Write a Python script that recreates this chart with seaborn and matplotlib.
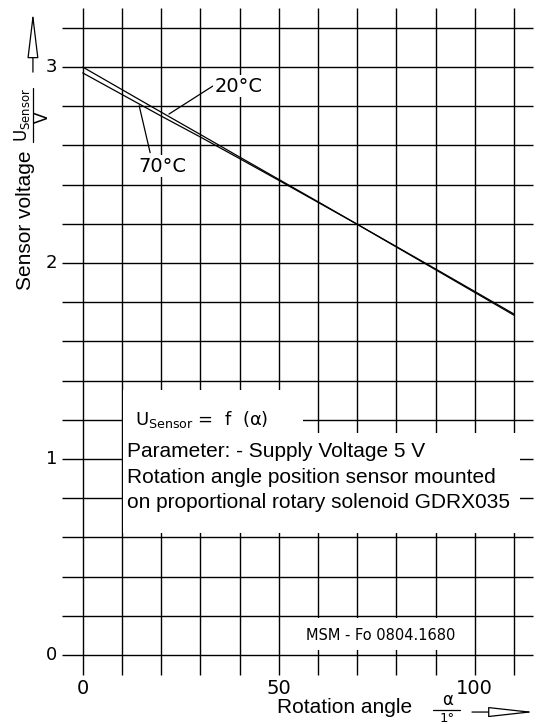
import numpy as np
import pandas as pd
import matplotlib
matplotlib.use("Agg")
import matplotlib.pyplot as plt
from matplotlib.patches import Rectangle
import seaborn as sns

# characteristic curves
angle = [0, 10, 20, 30, 40, 50, 60, 70, 80, 90, 100, 110]
u_20c = [3.00, 2.885, 2.77, 2.656, 2.541, 2.427, 2.313, 2.198, 2.084, 1.970, 1.855, 1.740]
u_70c = [2.97, 2.860, 2.750, 2.643, 2.533, 2.422, 2.310, 2.198, 2.082, 1.966, 1.850, 1.734]

x_ticks = [0, 50, 100]
y_ticks = [0, 1, 2, 3]
x_grid = np.arange(0, 111, 10)
y_grid = np.round(np.arange(0, 3.21, 0.2), 2)

param_text = ("Parameter: - Supply Voltage 5 V\n"
              "Rotation angle position sensor mounted\n"
              "on proportional rotary solenoid GDRX035")

df = pd.DataFrame({
    "angle": angle * 2,
    "voltage": u_20c + u_70c,
    "temp": ["20°C"] * len(angle) + ["70°C"] * len(angle),
})

sns.set_style("white")
plt.rcParams["font.family"] = ["DejaVu Sans"]
plt.rcParams["text.color"] = "black"
arial = ["Liberation Sans", "DejaVu Sans"]

fig = plt.figure(figsize=(5.39, 7.24), dpi=100)
ax = fig.add_axes([0, 0, 1, 1])

# grid
ax.vlines(x_grid, -0.1, 3.3, color="black", lw=1.0, zorder=1)
ax.hlines(y_grid, -5.3, 114.9, color="black", lw=1.0, zorder=1)

# white areas that hide the grid behind the text
ax.add_patch(Rectangle((10.4, 0.625), 101.2, 0.51, fc="white", ec="none", zorder=2))
ax.add_patch(Rectangle((10.4, 1.13), 45.8, 0.22, fc="white", ec="none", zorder=2))
ax.add_patch(Rectangle((53.0, 0.025), 45.8, 0.165, fc="white", ec="none", zorder=2))

sns.lineplot(data=df, x="angle", y="voltage", hue="temp",
             palette=["black", "black"], legend=False, lw=0.9, ax=ax, zorder=3)
ax.set_xlim(-21.1, 116.4)
ax.set_ylim(-0.352, 3.342)
ax.axis("off")

# tick labels
for v in y_ticks:
    ax.text(-6.4, v, str(v), ha="right", va="center", fontsize=13)
for v in x_ticks:
    ax.text(v, -0.17, str(v), ha="center", va="center", fontsize=14)

# curve labels
ax.plot([22.0, 33.2], [2.760, 2.903], color="black", lw=0.9, zorder=3)
ax.text(33.7, 2.903, "20°C", ha="left", va="center", fontsize=14, zorder=4,
        bbox=dict(fc="white", ec="none", pad=1))
ax.plot([14.4, 17.2], [2.803, 2.563], color="black", lw=0.9, zorder=3)
ax.text(20.2, 2.495, "70°C", ha="center", va="center", fontsize=14, zorder=4,
        bbox=dict(fc="white", ec="none", pad=1))

# texts in the chart
ax.text(13.4, 1.173, r"U$_{\mathregular{Sensor}}$ =  f  (α)", ha="left",
        va="baseline", fontsize=13, zorder=4)
ax.text(11.3, 0.908, param_text, ha="left", va="center", fontsize=15,
        family=arial, linespacing=1.42, zorder=4)
ax.text(75.9, 0.102, "MSM - Fo 0804.1680", ha="center", va="center",
        fontsize=10.5, zorder=4)

# y axis title
ax.text(-14.6, 2.22, "Sensor voltage", rotation=90, ha="center",
        va="center", fontsize=15, family=arial)
ax.text(-15.4, 2.755, r"U$_{\mathregular{Sensor}}$", rotation=90, ha="center",
        va="center", fontsize=12)
ax.text(-10.1, 2.745, "V", rotation=90, ha="center", va="center", fontsize=12)
ax.plot([-12.7, -12.7], [2.617, 2.893], color="black", lw=0.9)
ax.annotate("", xy=(-12.7, 3.28), xytext=(-12.7, 2.974),
            arrowprops=dict(arrowstyle="-|>,head_length=2.9,head_width=0.35",
                            fc="white", ec="black", lw=0.9,
                            shrinkA=0, shrinkB=0))

# x axis title
ax.text(66.7, -0.27, "Rotation angle", ha="center", va="center",
        fontsize=15, family=arial)
ax.text(93.0, -0.232, "α", ha="center", va="center", fontsize=12)
ax.plot([89.4, 96.3], [-0.283, -0.283], color="black", lw=0.9)
ax.text(93.0, -0.292, "1°", ha="center", va="top", fontsize=9.5)
ax.annotate("", xy=(115.3, -0.291), xytext=(99.3, -0.291),
            arrowprops=dict(arrowstyle="-|>,head_length=2.9,head_width=0.32",
                            fc="white", ec="black", lw=0.9,
                            shrinkA=0, shrinkB=0))

fig.savefig("out.png", dpi=100)
